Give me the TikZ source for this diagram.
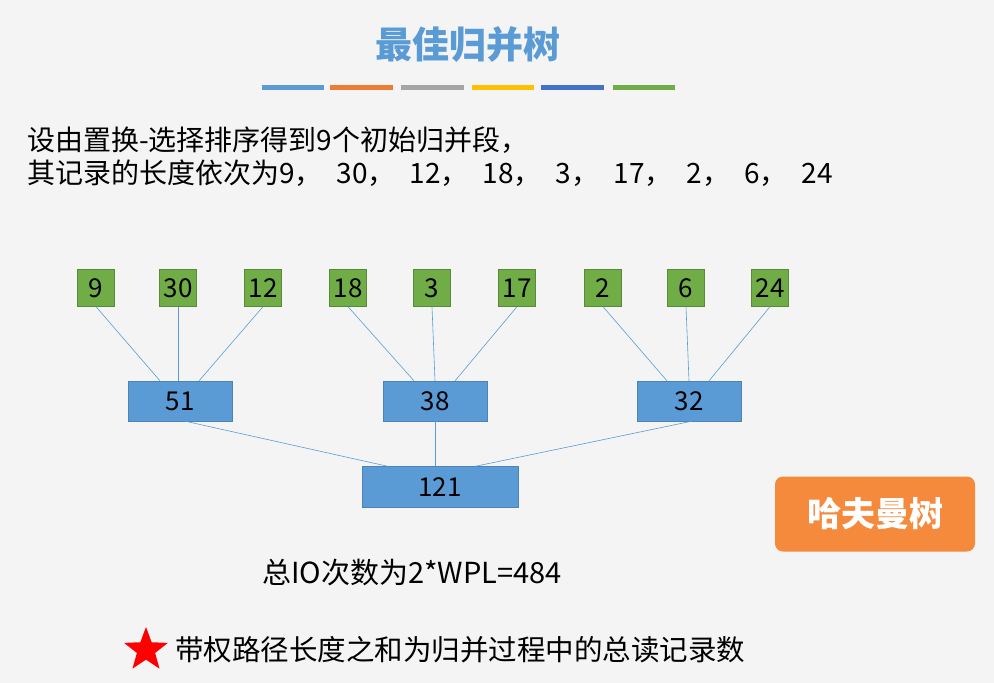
\documentclass[tikz,border=0pt]{standalone}
\usepackage{fontspec}
\setmainfont{Noto Sans CJK SC}
\usetikzlibrary{shapes.geometric}
\definecolor{bg}{HTML}{F4F4F4}
\definecolor{lf}{HTML}{70AD47}
\definecolor{bl}{HTML}{5B9BD5}
\definecolor{og}{HTML}{F58A3C}
\tikzset{
 leaf/.style={fill=lf,draw=lf!80!black,line width=0.3pt,minimum width=37pt,minimum height=37pt,inner sep=0pt,font=\fontsize{26}{28}\selectfont},
 inn/.style={fill=bl,draw=bl!85!black,line width=0.3pt,minimum width=104pt,minimum height=40pt,inner sep=0pt,font=\fontsize{26}{28}\selectfont},
 ln/.style={draw=bl,line width=0.6pt},
 txt/.style={anchor=west,inner sep=0pt,font=\fontsize{28}{30}\selectfont},
 bar/.style={line width=5pt}
}
\newcommand{\gp}{\hspace{14pt}}
\begin{document}
\begin{tikzpicture}[x=1pt,y=-1pt]
\fill[bg] (0,0) rectangle (994,683);
\useasboundingbox (0,0) rectangle (994,683);
\node[font=\bfseries\fontsize{37}{40}\selectfont,text=bl] (title) at (468,45) {最佳归并树};
\foreach \a/\b/\c in {262/324/5B9BD5,330/393/ED7D31,401/464/A5A5A5,472/534/FFC000,541/604/4472C4,613/675/70AD47}{
 \definecolor{bc}{HTML}{\c}\draw[bar,bc] (\a,87) -- (\b,87);}
\node[txt] (l1) at (27,140) {设由置换-选择排序得到9个初始归并段，};
\node[txt] (l2) at (27,173) {其记录的长度依次为9，\gp30，\gp12，\gp18，\gp3，\gp17，\gp2，\gp6，\gp24};
\foreach \n/\x/\v in {a/96/9,b/178/30,c/263/12,d/348/18,e/432/3,f/517/17,g/603/2,h/686/6,i/770/24}
 \node[leaf] (\n) at (\x,288) {\v};
\node[inn] (p) at (180,401) {51};
\node[inn] (q) at (435,401) {38};
\node[inn] (r) at (689,401) {32};
\node[inn,minimum width=156pt,minimum height=41pt] (t) at (440,487) {121};
\draw[ln] (a.south) -- ([xshift=-20pt]p.north);
\draw[ln] (b.south) -- ([xshift=-2pt]p.north);
\draw[ln] (c.south) -- ([xshift=19pt]p.north);
\draw[ln] (d.south) -- ([xshift=-21pt]q.north);
\draw[ln] (e.south) -- (q.north);
\draw[ln] (f.south) -- ([xshift=20pt]q.north);
\draw[ln] (g.south) -- ([xshift=-22pt]r.north);
\draw[ln] (h.south) -- (r.north);
\draw[ln] (i.south) -- ([xshift=20pt]r.north);
\draw[ln] ([xshift=5pt]p.south) -- ([xshift=-52pt]t.north);
\draw[ln] (q.south) -- ([xshift=-5pt]t.north);
\draw[ln] ([xshift=3pt]r.south) -- ([xshift=35pt]t.north);
\node[fill=og,rounded corners=8pt,minimum width=200pt,minimum height=75pt,text=white,font=\bfseries\fontsize{34}{36}\selectfont] (hf) at (875,514) {哈夫曼树};
\node[txt,font=\fontsize{29}{31}\selectfont] (io) at (262,573) {总IO次数为2*WPL=484};
\node[star,star points=5,star point ratio=2.4,fill=red,minimum size=46pt,inner sep=0pt] (st) at (146,650) {};
\node[txt,font=\fontsize{28.5}{31}\selectfont] (note) at (175,650) {带权路径长度之和为归并过程中的总读记录数};
\end{tikzpicture}
\end{document}
